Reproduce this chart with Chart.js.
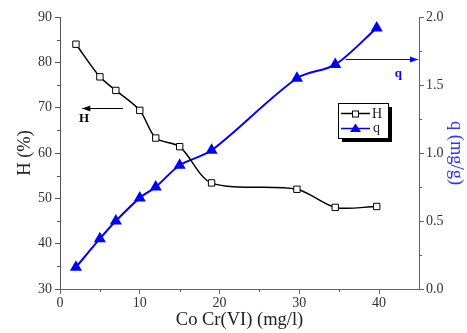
<!DOCTYPE html>
<html>
<head>
<meta charset="utf-8">
<script src="https://cdn.jsdelivr.net/npm/chart.js@4.4.0/dist/chart.umd.min.js"></script>
<style>
  html, body { margin: 0; padding: 0; background: #fff; }
  #wrap { width: 467px; height: 333px; }
</style>
</head>
<body>
<div id="wrap"><canvas id="myChart" width="467" height="333"></canvas></div>
<script>
// concentration of Cr(VI), mg/l
const conc = [2, 5, 7, 10, 12, 15, 19, 29.7, 34.5, 39.7];
// removal efficiency H (%)
const hValues = [84, 76.8, 73.8, 69.4, 63.3, 61.4, 53.4, 52.0, 48.0, 48.2];
// uptake q (mg/g)
const qValues = [0.16, 0.37, 0.50, 0.67, 0.75, 0.91, 1.02, 1.55, 1.65, 1.92];

const serif = '"Liberation Serif", "DejaVu Serif", serif';
const blue = '#0000ff';

//pair up x with y for the linear x scale
const toPoints = (ys) => ys.map((y, i) => ({ x: conc[i], y: y }));

//minor ticks, arrows with labels and the legend box
const extras = {
  id: 'extras',
  afterDraw(chart) {
    const ctx = chart.ctx;
    const x = chart.scales.x, yl = chart.scales.y, yr = chart.scales.y1;
    ctx.save();
    ctx.lineWidth = 1;

    //minor ticks
    ctx.strokeStyle = '#555';
    [5, 15, 25, 35].forEach(v => {
      const px = Math.round(x.getPixelForValue(v)) + 0.5;
      ctx.beginPath(); ctx.moveTo(px, x.top); ctx.lineTo(px, x.top + 3); ctx.stroke();
    });
    [35, 45, 55, 65, 75, 85].forEach(v => {
      const py = Math.round(yl.getPixelForValue(v)) + 0.5;
      ctx.beginPath(); ctx.moveTo(yl.right, py); ctx.lineTo(yl.right - 3, py); ctx.stroke();
    });
    ctx.strokeStyle = '#4d4dff';
    [0.25, 0.75, 1.25, 1.75].forEach(v => {
      const py = Math.round(yr.getPixelForValue(v)) + 0.5;
      ctx.beginPath(); ctx.moveTo(yr.left, py); ctx.lineTo(yr.left + 3, py); ctx.stroke();
    });

    //arrow helper
    const arrow = (x1, x2, py, color) => {
      ctx.strokeStyle = color; ctx.fillStyle = color;
      ctx.beginPath(); ctx.moveTo(x1, py); ctx.lineTo(x2, py); ctx.stroke();
      const d = x2 > x1 ? -1 : 1;
      ctx.beginPath();
      ctx.moveTo(x2, py);
      ctx.lineTo(x2 + d * 8, py - 3);
      ctx.lineTo(x2 + d * 8, py + 3);
      ctx.closePath(); ctx.fill();
    };
    //arrow pointing to the H axis
    const hy = Math.round(yl.getPixelForValue(70)) + 0.5;
    arrow(x.getPixelForValue(7.9), x.getPixelForValue(2.8), hy, '#000');
    ctx.font = 'bold 13px ' + serif;
    ctx.fillStyle = '#000';
    ctx.textAlign = 'center'; ctx.textBaseline = 'middle';
    ctx.fillText('H', x.getPixelForValue(3.0), hy + 10);

    //arrow pointing to the q axis
    const qy = Math.round(yr.getPixelForValue(1.69)) + 0.5;
    arrow(x.getPixelForValue(35.8), x.right - 1, qy, blue);
    ctx.fillStyle = blue;
    ctx.fillText('q', x.getPixelForValue(42.4), qy + 14);

    //legend box with shadow
    const lx = 338, ly = 103, lw = 50, lh = 35;
    ctx.fillStyle = '#000';
    ctx.fillRect(lx + 4, ly + 4, lw, lh);
    ctx.fillStyle = '#fff';
    ctx.fillRect(lx, ly, lw, lh);
    ctx.strokeStyle = '#000';
    ctx.strokeRect(lx + 0.5, ly + 0.5, lw, lh);

    ctx.font = '14px ' + serif;
    ctx.textAlign = 'left';
    //H entry
    let ey = ly + 10.5;
    ctx.strokeStyle = '#000'; ctx.lineWidth = 1.5;
    ctx.beginPath(); ctx.moveTo(lx + 3, ey); ctx.lineTo(lx + 32, ey); ctx.stroke();
    ctx.fillStyle = '#fff'; ctx.lineWidth = 1;
    ctx.fillRect(lx + 14, ey - 3, 6, 6);
    ctx.strokeRect(lx + 14.5, ey - 2.5, 6, 6);
    ctx.fillStyle = '#222';
    ctx.fillText('H', lx + 34, ey + 1);
    //q entry
    ey = ly + 25.5;
    ctx.strokeStyle = blue; ctx.lineWidth = 1.5;
    ctx.beginPath(); ctx.moveTo(lx + 3, ey); ctx.lineTo(lx + 32, ey); ctx.stroke();
    ctx.fillStyle = blue;
    ctx.beginPath();
    ctx.moveTo(lx + 17.5, ey - 5); ctx.lineTo(lx + 23, ey + 3.5); ctx.lineTo(lx + 12, ey + 3.5);
    ctx.closePath(); ctx.fill();
    ctx.fillStyle = '#222';
    ctx.fillText('q', lx + 35, ey);

    ctx.restore();
  }
};

new Chart(document.getElementById('myChart').getContext('2d'), {
  type: 'line',
  data: {
    datasets: [
      {
        label: 'H',
        data: toPoints(hValues),
        yAxisID: 'y',
        borderColor: '#000',
        borderWidth: 1.5,
        tension: 0.3,
        pointStyle: 'rect',
        pointRadius: 4.5,
        pointBackgroundColor: '#fff',
        pointBorderColor: '#000',
        pointBorderWidth: 1,
      },
      {
        label: 'q',
        data: toPoints(qValues),
        yAxisID: 'y1',
        borderColor: blue,
        borderWidth: 2,
        tension: 0.3,
        pointStyle: 'triangle',
        pointRadius: 5,
        pointBackgroundColor: blue,
        pointBorderColor: blue,
      },
    ],
  },
  options: {
    responsive: false,
    animation: false,
    layout: { padding: { top: 17, right: 0, left: 0, bottom: 0 } },
    plugins: { legend: { display: false }, tooltip: { enabled: false } },
    scales: {
      x: {
        type: 'linear',
        min: 0, max: 45,
        afterBuildTicks: (s) => { s.ticks = [0, 10, 20, 30, 40].map(v => ({ value: v })); },
        afterFit: (s) => { s.height = 44; },
        border: { color: '#666', width: 1 },
        grid: { drawOnChartArea: false, tickLength: 5, color: '#666' },
        ticks: { color: '#333', font: { family: serif, size: 14 }, padding: 1 },
        title: { display: true, text: 'Co Cr(VI) (mg/l)', color: '#222', font: { family: serif, size: 18.5 }, padding: { top: 0, bottom: 2 } },
      },
      y: {
        position: 'left',
        min: 30, max: 90,
        ticks: { stepSize: 10, color: '#333', font: { family: serif, size: 14 }, padding: 3 },
        afterFit: (s) => { s.width = 60; },
        border: { color: '#555', width: 1 },
        grid: { drawOnChartArea: false, tickLength: 5, color: '#555' },
        title: { display: true, text: 'H (%)', color: '#222', font: { family: serif, size: 18.5 }, padding: { top: 14, bottom: 0 } },
      },
      y1: {
        position: 'right',
        min: 0, max: 2,
        ticks: { stepSize: 0.5, color: '#333', font: { family: serif, size: 14 }, padding: 2,
                 callback: (v) => v.toFixed(1) },
        afterFit: (s) => { s.width = 48; },
        border: { color: '#4d4dff', width: 1 },
        grid: { drawOnChartArea: false, tickLength: 5, color: '#4d4dff' },
        title: { display: true, text: 'q (mg/g)', color: '#3333ff', font: { family: serif, size: 18.5 }, padding: 0 },
      },
    },
  },
  plugins: [extras],
});
</script>
</body>
</html>
